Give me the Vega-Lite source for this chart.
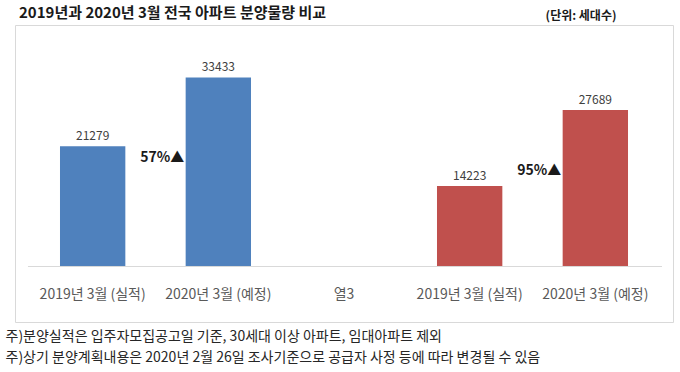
{
  "$schema": "https://vega.github.io/schema/vega-lite/v6.json",
  "width": 658,
  "height": 297,
  "autosize": {"type": "none"},
  "padding": {"left": 15, "top": 25, "right": 7, "bottom": 50},
  "background": "white",
  "config": {
    "view": {"stroke": "#d9d9d9", "strokeWidth": 1},
    "font": "Noto Sans CJK KR"
  },
  "title": {
    "text": "2019년과 2020년 3월 전국 아파트 분양물량 비교",
    "anchor": "start",
    "frame": "group",
    "fontSize": 15,
    "fontWeight": "bold",
    "color": "#1a1a1a",
    "offset": 5,
    "dx": 4,
    "dy": 17,
    "font": "Noto Sans CJK KR"
  },
  "datasets": {
    "bars": [
      {"id": "a1", "value": 21279, "grp": "A"},
      {"id": "a2", "value": 33433, "grp": "A"},
      {"id": "b1", "value": 14223, "grp": "B"},
      {"id": "b2", "value": 27689, "grp": "B"}
    ],
    "notes": [
      {"id": "a2", "lo": 15500, "hi": 22600, "mid": 19230, "txt": "57%▲"},
      {"id": "b2", "lo": 13270, "hi": 20340, "mid": 16930, "txt": "95%▲"}
    ],
    "base": [{"v": 0}]
  },
  "layer": [
    {
      "data": {"name": "bars"},
      "mark": {"type": "bar"},
      "encoding": {
        "x": {
          "field": "id",
          "type": "nominal",
          "scale": {"domain": ["a1", "a2", "c", "b1", "b2"], "paddingInner": 0.48, "paddingOuter": 0.358},
          "axis": {
            "labelExpr": "datum.value=='a1'||datum.value=='b1'?'2019년 3월 (실적)':datum.value=='c'?'열3':'2020년 3월 (예정)'",
            "domain": false,
            "ticks": false,
            "tickSize": 0,
            "grid": false,
            "labelPadding": -28,
            "labelBaseline": "middle",
            "labelAngle": 0,
            "labelFontSize": 14,
            "labelColor": "#595959",
            "labelFont": "Noto Sans CJK KR",
            "title": ["주)분양실적은 입주자모집공고일 기준, 30세대 이상 아파트, 임대아파트 제외", "주)상기 분양계획내용은 2020년 2월 26일 조사기준으로 공급자 사정 등에 따라 변경될 수 있음"],
            "titleAnchor": "start",
            "titleAlign": "left",
            "titleX": -10,
            "titleY": 7,
            "titleBaseline": "top",
            "titleFontSize": 14,
            "titleFontWeight": "normal",
            "titleColor": "#262626",
            "titleFont": "Noto Sans CJK KR",
            "titleLineHeight": 21
          }
        },
        "y": {
          "field": "value",
          "type": "quantitative",
          "scale": {"domain": [-9820, 42720], "nice": false, "zero": false},
          "axis": {
            "orient": "right",
            "labels": false,
            "ticks": false,
            "domain": false,
            "grid": false,
            "title": "(단위: 세대수)",
            "titleAngle": 0,
            "titleAlign": "right",
            "titleBaseline": "middle",
            "titleX": -57,
            "titleY": -10,
            "titleFontSize": 12,
            "titleFontWeight": "bold",
            "titleColor": "#1a1a1a",
            "titleFont": "Noto Sans CJK KR"
          }
        },
        "color": {
          "field": "grp",
          "type": "nominal",
          "scale": {"domain": ["A", "B"], "range": ["#4F81BD", "#C0504D"]},
          "legend": null
        }
      }
    },
    {
      "data": {"name": "bars"},
      "mark": {"type": "text", "baseline": "bottom", "dy": -3, "fontSize": 12, "color": "#404040", "font": "Noto Sans CJK KR"},
      "encoding": {
        "x": {"field": "id", "type": "nominal"},
        "y": {"field": "value", "type": "quantitative"},
        "text": {"field": "value", "type": "quantitative", "format": "d"}
      }
    },
    {
      "data": {"name": "notes"},
      "mark": {"type": "bar", "color": "white", "width": 14},
      "encoding": {
        "x": {"field": "id", "type": "nominal"},
        "xOffset": {"value": -26.5},
        "y": {"field": "lo", "type": "quantitative"},
        "y2": {"field": "hi"}
      }
    },
    {
      "data": {"name": "notes"},
      "mark": {"type": "text", "align": "right", "baseline": "middle", "fontSize": 14, "fontWeight": "bold", "color": "#1a1a1a", "dx": -34, "font": "Noto Sans CJK KR"},
      "encoding": {
        "x": {"field": "id", "type": "nominal"},
        "y": {"field": "mid", "type": "quantitative"},
        "text": {"field": "txt"}
      }
    },
    {
      "data": {"name": "base"},
      "mark": {"type": "rule", "color": "#d9d9d9", "strokeWidth": 1},
      "encoding": {
        "y": {"field": "v", "type": "quantitative"},
        "x": {"datum": "a1", "bandPosition": -0.49},
        "x2": {"datum": "b2", "bandPosition": 1.52}
      }
    }
  ]
}
